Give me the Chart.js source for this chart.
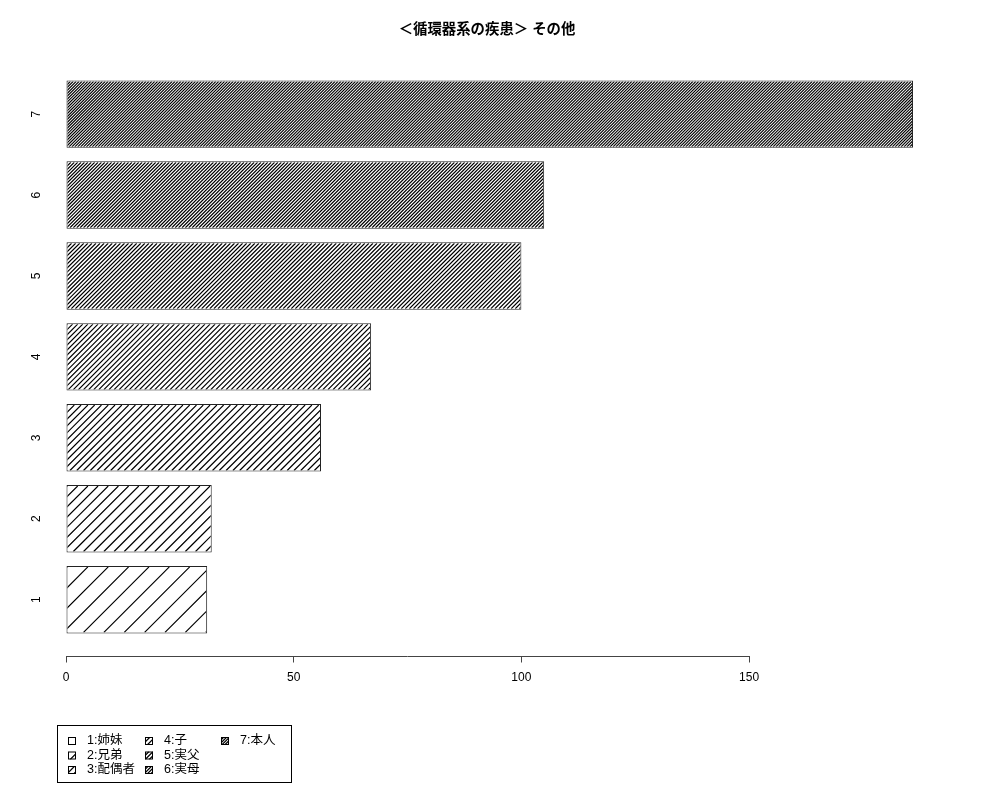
<!DOCTYPE html>
<html lang="ja">
<head>
<meta charset="UTF-8">
<title>循環器系の疾患 その他</title>
<script src="https://cdn.jsdelivr.net/npm/chart.js"></script>
<style>
  body { margin: 0; background: #fff; }
  #wrap { width: 1000px; height: 800px; }
</style>
</head>
<body>
<div id="wrap"><canvas id="bars" width="1000" height="800"></canvas></div>
<script>
const categories = ['1', '2', '3', '4', '5', '6', '7'];
const values = [31, 32, 56, 67, 100, 105, 186];
const legendLabels = ['1:姉妹', '2:兄弟', '3:配偶者', '4:子', '5:実父', '6:実母', '7:本人'];
const xTicks = [0, 50, 100, 150];
const chartTitle = '＜循環器系の疾患＞ その他';

// hatch density per bar, lines per inch like R's density=
const density = [5, 10, 15, 20, 25, 30, 35];
const FONT = '"Liberation Sans", "Noto Sans CJK JP", sans-serif';

// 45 degree "/" lines inside a rectangle
function hatch(ctx, left, top, w, h, dens) {
  const step = 72 * Math.SQRT2 / dens;
  ctx.save();
  ctx.beginPath();
  ctx.rect(left, top, w, h);
  ctx.clip();
  ctx.strokeStyle = '#000';
  ctx.lineWidth = 1.2;
  ctx.beginPath();
  for (let k = left - h; k < left + w + step; k += step) {
    ctx.moveTo(k, top + h);
    ctx.lineTo(k + h, top);
  }
  ctx.stroke();
  ctx.restore();
}

const hatchPlugin = {
  id: 'hatch',
  afterDatasetsDraw(chart) {
    const ctx = chart.ctx;
    chart.getDatasetMeta(0).data.forEach((bar, i) => {
      const p = bar.getProps(['x', 'y', 'base', 'height'], true);
      const left = Math.min(p.x, p.base) + 1;
      const right = Math.max(p.x, p.base) - 1;
      const top = p.y - p.height / 2 + 1;
      hatch(ctx, left, top, right - left, p.height - 2, density[i]);
    });
  }
};

const axisLine = {
  id: 'axisLine',
  afterDraw(chart) {
    const ctx = chart.ctx;
    const xs = chart.scales.x;
    const y = Math.round(chart.chartArea.bottom) + 0.5;
    ctx.save();
    ctx.strokeStyle = '#444';
    ctx.lineWidth = 1;
    ctx.beginPath();
    ctx.moveTo(xs.getPixelForValue(xTicks[0]), y);
    ctx.lineTo(xs.getPixelForValue(xTicks[xTicks.length - 1]), y);
    ctx.stroke();
    ctx.restore();
  }
};

// R style legend: framed box, 3 columns filled top to bottom
const boxLegend = {
  id: 'boxLegend',
  afterDraw(chart) {
    const ctx = chart.ctx;
    const cols = [68, 145, 221];
    const rows = [741, 755.5, 770];
    ctx.save();
    ctx.strokeStyle = '#000';
    ctx.lineWidth = 1;
    ctx.strokeRect(57.5, 725.5, 234, 57);
    ctx.font = '12.5px ' + FONT;
    ctx.fillStyle = '#000';
    ctx.textBaseline = 'middle';
    legendLabels.forEach((lab, i) => {
      const cx = cols[Math.floor(i / 3)];
      const cy = rows[i % 3];
      hatch(ctx, cx, cy - 4, 8, 8, density[i]);
      ctx.strokeRect(cx + 0.5, cy - 3.5, 7, 7);
      ctx.fillText(lab, cx + 19, cy);
    });
    ctx.restore();
  }
};

new Chart(document.getElementById('bars'), {
  type: 'bar',
  data: {
    datasets: [{
      data: values.map((v, i) => ({ x: v, y: i + 1 })),
      backgroundColor: '#fff',
      borderColor: '#222',
      borderWidth: 1,
      borderSkipped: false,
      categoryPercentage: 1,
      barPercentage: 1 / 1.2
    }]
  },
  options: {
    indexAxis: 'y',
    responsive: false,
    devicePixelRatio: 1,
    animation: false,
    layout: { padding: { left: 0, right: 26, top: 0, bottom: 0 } },
    plugins: {
      legend: { display: false },
      tooltip: { enabled: false },
      title: {
        display: true,
        text: chartTitle,
        color: '#000',
        font: { family: FONT, size: 14.4, weight: 'bold', lineHeight: 1.2 },
        padding: { top: 21, bottom: 20 }
      }
    },
    scales: {
      x: {
        type: 'linear',
        min: 0,
        max: 199.4,
        afterBuildTicks: s => { s.ticks = xTicks.map(v => ({ value: v })); },
        afterFit: s => { s.height = 144.5; },
        border: { display: false },
        grid: { drawOnChartArea: false, drawTicks: true, tickLength: 7, color: '#444' },
        ticks: { color: '#000', font: { family: FONT, size: 12 }, padding: 8, maxRotation: 0 }
      },
      y: {
        type: 'linear',
        offset: false,
        min: 0.31,
        max: 7.69,
        afterBuildTicks: s => { s.ticks = categories.map((c, i) => ({ value: i + 1 })); },
        afterFit: s => { s.width = 66; },
        border: { display: false },
        grid: { display: false, offset: false },
        ticks: {
          color: '#000',
          font: { family: FONT, size: 12 },
          minRotation: 90,
          maxRotation: 90,
          crossAlign: 'center',
          padding: 18,
          callback: v => categories[Math.round(v) - 1]
        }
      }
    }
  },
  plugins: [hatchPlugin, axisLine, boxLegend]
});
</script>
</body>
</html>
